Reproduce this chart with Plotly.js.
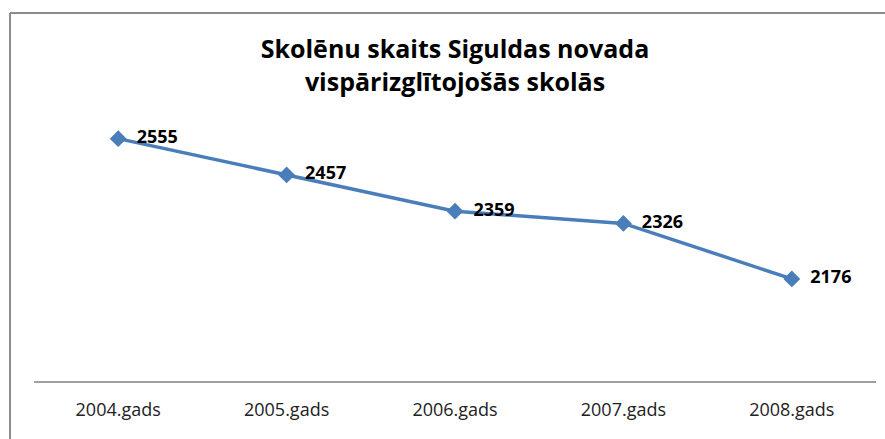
<!DOCTYPE html>
<html><head><meta charset="utf-8">
<script src="https://cdn.plot.ly/plotly-3.0.1.min.js"></script>
<style>html,body{margin:0;padding:0;background:#fff}#chart{width:885px;height:439px}</style>
</head><body><div id="chart"></div>
<script>
const categories = ["2004.gads","2005.gads","2006.gads","2007.gads","2008.gads"];
const values = [2555, 2457, 2359, 2326, 2176];
const labels = values.map(v => '\u00a0\u00a0' + v);

const L=34, R=9, T=122, B=58, W=885, H=439;
const pw = W-L-R, ph = H-T-B;
const px2x = p => (p-L)/pw;
const py2y = p => (H-B-p)/ph;

Plotly.newPlot('chart', [{
  x: categories, y: values, type: 'scatter', mode: 'lines+markers+text',
  text: labels, textposition: 'middle right',
  textfont: {family: 'Open Sans, sans-serif', size: 18, color: '#000', weight: 'bold'},
  line: {color: '#4A7EBB', width: 3.5},
  marker: {symbol: 'diamond', size: 13, color: '#4A7EBB'},
  cliponaxis: false, hoverinfo: 'none'
}], {
  width: W, height: H,
  margin: {l: L, r: R, t: T, b: B},
  paper_bgcolor: '#fff', plot_bgcolor: 'rgba(0,0,0,0)',
  showlegend: false,
  title: {text: '<b>Skolēnu skaits Siguldas novada<br>vispārizglītojošās skolās</b>',
    x: 455/W, xanchor: 'center', y: 1-58/H, yanchor: 'middle',
    font: {family: 'Open Sans, sans-serif', size: 25, color: '#000'}},
  xaxis: {type: 'category', range: [-0.5, 4.5], showgrid: false, zeroline: false,
    showline: true, linecolor: '#A0A0A0', linewidth: 1.5, ticks: '',
    tickfont: {family: 'Open Sans, sans-serif', size: 18, color: '#222'}, ticklabelstandoff: 12},
  yaxis: {range: [1900, 2600], visible: false, showgrid: false, zeroline: false},
  shapes: [
    {type: 'line', xref: 'paper', yref: 'paper', x0: px2x(10), x1: px2x(W+5), y0: py2y(13), y1: py2y(13), line: {color: '#8C8C8C', width: 2}},
    {type: 'line', xref: 'paper', yref: 'paper', x0: px2x(10), x1: px2x(10), y0: py2y(13), y1: py2y(H+5), line: {color: '#8C8C8C', width: 2}}
  ]
}, {staticPlot: true});
</script></body></html>
